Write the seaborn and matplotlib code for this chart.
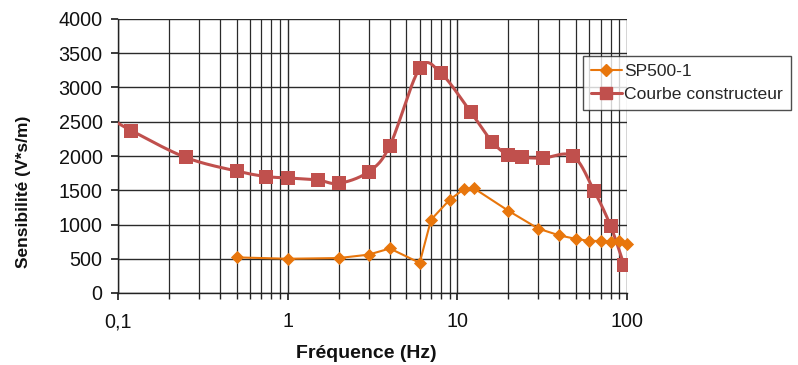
import numpy as np
import pandas as pd
import matplotlib
matplotlib.use("Agg")
import matplotlib.pyplot as plt
from matplotlib.lines import Line2D
from matplotlib.ticker import LogLocator, NullFormatter
import seaborn as sns

# Sensor sensitivity versus frequency
freq_sp500 = [0.5, 1, 2, 3, 4, 6, 7, 9, 11, 12.5, 20, 30, 40, 50, 60, 70, 80, 90, 100]
sens_sp500 = [520, 500, 510, 560, 650, 440, 1070, 1360, 1520, 1530, 1200, 940, 840, 790, 760, 760, 750, 760, 710]

freq_maker = [0.09, 0.12, 0.25, 0.5, 0.75, 1, 1.5, 2, 3, 4, 6, 8, 12, 16, 20, 24, 32, 48, 64, 80, 96]
sens_maker = [2550, 2370, 1980, 1780, 1700, 1680, 1650, 1600, 1770, 2150, 3280, 3210, 2640, 2210, 2010, 1980, 1970, 2000, 1490, 980, 410]

label_sp500 = "SP500-1"
label_maker = "Courbe constructeur"
xtick_vals = [0.1, 1, 10, 100]
xtick_text = ["0,1", "1", "10", "100"]
ytick_vals = list(range(0, 4001, 500))

ORANGE = "#E8760C"
RED = "#C0504D"

sns.set_theme(style="white")
plt.rcParams["font.family"] = ["Liberation Sans", "DejaVu Sans"]


def smooth_curve(x, y, n=24):
    """Catmull-Rom smoothing in log-frequency space (smoothed line chart)."""
    lx = np.log10(np.asarray(x, float))
    yy = np.asarray(y, float)
    P = np.column_stack([lx, yy])
    P = np.vstack([P[0], P, P[-1]])
    out = []
    t = np.linspace(0, 1, n, endpoint=False)
    for i in range(1, len(P) - 2):
        p0, p1, p2, p3 = P[i - 1], P[i], P[i + 1], P[i + 2]
        c1 = p1 + (p2 - p0) / 6.0
        c2 = p2 - (p3 - p1) / 6.0
        seg = ((1 - t) ** 3)[:, None] * p1 + (3 * (1 - t) ** 2 * t)[:, None] * c1 \
            + (3 * (1 - t) * t ** 2)[:, None] * c2 + (t ** 3)[:, None] * p2
        out.append(seg)
    out.append(P[-2][None, :])
    pts = np.vstack(out)
    return 10 ** pts[:, 0], pts[:, 1]


fig = plt.figure(figsize=(7.98, 3.65), dpi=100)
ax = fig.add_axes([118 / 798, 72 / 365, (627 - 118) / 798, (293 - 19) / 365])

df_sp = pd.DataFrame({"f": freq_sp500, "s": sens_sp500})
df_mk = pd.DataFrame({"f": freq_maker, "s": sens_maker})
sx, sy = smooth_curve(freq_maker, sens_maker)
df_mk_smooth = pd.DataFrame({"f": sx, "s": sy})

sns.lineplot(data=df_mk_smooth, x="f", y="s", ax=ax, color=RED, lw=2.2, sort=False,
             estimator=None, zorder=3)
sns.scatterplot(data=df_mk, x="f", y="s", ax=ax, color=RED, marker="s", s=100,
                edgecolor=RED, linewidth=0, zorder=4)
sns.lineplot(data=df_sp, x="f", y="s", ax=ax, color=ORANGE, lw=1.5, estimator=None,
             zorder=5)
sns.scatterplot(data=df_sp, x="f", y="s", ax=ax, color=ORANGE, marker="D", s=45,
                edgecolor=ORANGE, linewidth=0, zorder=6)
ax.collections[-1].set_clip_on(False)

ax.set_xscale("log")
ax.set_xlim(0.1, 100)
ax.set_ylim(0, 4000)
ax.set_yticks(ytick_vals)
ax.set_yticklabels([str(v) for v in ytick_vals])
ax.set_xticks(xtick_vals)
ax.set_xticklabels(xtick_text)
ax.xaxis.set_minor_locator(LogLocator(base=10, subs=np.arange(2, 10)))
ax.xaxis.set_minor_formatter(NullFormatter())

ax.grid(which="major", axis="both", color="#2a2a2a", lw=1.0)
ax.grid(which="minor", axis="x", color="#2a2a2a", lw=0.9)
ax.set_axisbelow(True)

for side in ["top", "right"]:
    ax.spines[side].set_visible(False)
for side in ["left", "bottom"]:
    ax.spines[side].set_color("#222222")
    ax.spines[side].set_linewidth(1.0)

ax.tick_params(axis="both", which="both", direction="out", color="#222222",
               labelsize=14.2, labelcolor="#111111")
ax.tick_params(axis="x", which="major", length=5, pad=9)
ax.tick_params(axis="x", which="minor", length=4)
ax.tick_params(axis="y", which="major", length=5, pad=6)
ax.tick_params(bottom=True, left=True, which="both")

ax.set_xlabel("")
ax.set_ylabel("")
fig.text(366 / 798, 1 - 353 / 365, "Fréquence (Hz)", fontsize=14, fontweight="bold",
         ha="center", va="center", color="#111111")
fig.text(24 / 798, 1 - 192 / 365, "Sensibilité (V*s/m)", fontsize=12.5, fontweight="bold",
         ha="center", va="center", rotation=90, color="#111111")

handles = [
    Line2D([], [], color=ORANGE, lw=1.5, marker="D", markersize=6, label=label_sp500),
    Line2D([], [], color=RED, lw=2.2, marker="s", markersize=9, label=label_maker),
]
leg = fig.legend(handles=handles, loc="upper left", bbox_to_anchor=(583 / 798, 1 - 56 / 365),
                 frameon=True, fancybox=False, edgecolor="#222222", fontsize=12.6,
                 handlelength=1.75, handletextpad=0.15, borderpad=0.45, labelspacing=0.42,
                 borderaxespad=0)
leg.get_frame().set_linewidth(1.0)

fig.savefig("out.png", dpi=100, facecolor="white")
